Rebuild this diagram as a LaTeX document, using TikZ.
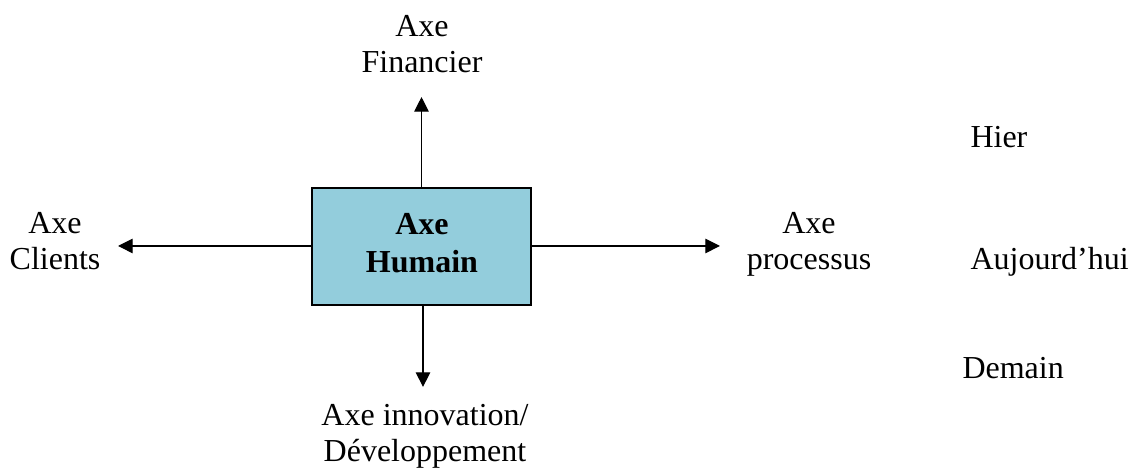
\documentclass[tikz,border=0pt]{standalone}
\usepackage{fontspec}
\setmainfont{Liberation Serif}
\usepackage{xcolor}
\usepackage{tikz}
\usetikzlibrary{arrows.meta,positioning}
\definecolor{aqua}{HTML}{93CDDC}
\tikzset{
  box/.style={draw, fill=aqua, line width=0.5pt, minimum width=219*0.375pt, minimum height=117*0.375pt, inner sep=0pt},
  lbl/.style={align=center, inner sep=0pt, anchor=base, font=\fontsize{12}{13.5}\selectfont},
  lbl_b/.style={lbl, font=\fontsize{12}{14.25}\selectfont\bfseries},
  lbl_l/.style={lbl, anchor=base west},
  arr/.style={-{Triangle[length=5.5pt,width=5.4pt]}, line width=0.45pt}
}
\begin{document}
\begin{tikzpicture}[x=0.375pt,y=-0.375pt]
  \useasboundingbox (0,0) rectangle (1130,468);
  \node[box] (humain) at (421.5,246.5) {};
  \node[lbl_b] (humainTxt) at (422,273) {Axe\\Humain};
  % les quatre axes
  \node[lbl] (financier) at (422,73) {Axe\\Financier};
  \node[lbl] (clients) at (55,270) {Axe\\Clients};
  \node[lbl] (processus) at (809,270) {Axe\\processus};
  \node[lbl] (innovation) at (425,462) {Axe innovation/\\D\'eveloppement};
  % le temps
  \node[lbl_l] (hier) at (970,148) {Hier};
  \node[lbl_l] (aujourdhui) at (970,270) {Aujourd'hui};
  \node[lbl_l] (demain) at (962,379) {Demain};
  \coordinate (tF) at (421.5,97);
  \coordinate (tC) at (118,246);
  \coordinate (tP) at (720,246);
  \coordinate (tI) at (423,387);
  \draw[arr] (humain.north) -- (tF);
  \draw[arr] (humain.west |- tC) -- (tC);
  \draw[arr] (humain.east |- tP) -- (tP);
  \draw[arr] (humain.south -| tI) -- (tI);
\end{tikzpicture}
\end{document}
